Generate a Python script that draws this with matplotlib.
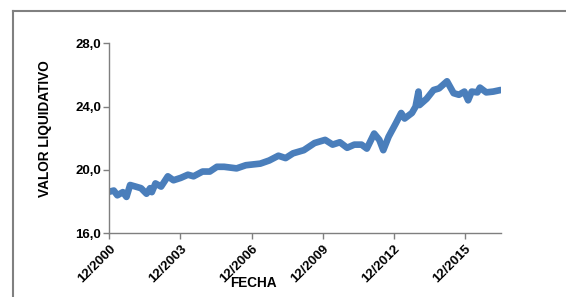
import pandas as pd
import matplotlib
matplotlib.use("Agg")
import matplotlib.pyplot as plt
import matplotlib.dates as mdates
from matplotlib.lines import Line2D

# valor liquidativo del fondo
fechas = [
    "2000-12-01", "2001-02-05", "2001-04-01", "2001-06-25", "2001-08-20",
    "2001-10-15", "2002-01-08", "2002-04-01", "2002-06-25", "2002-08-20",
    "2002-09-15", "2002-11-10", "2003-02-05", "2003-05-20", "2003-08-15",
    "2003-12-05", "2004-03-25", "2004-06-20", "2004-11-05", "2005-02-25",
    "2005-06-15", "2005-10-05", "2006-04-15", "2006-09-05", "2007-04-15",
    "2007-09-01", "2008-01-20", "2008-05-10", "2008-09-01", "2009-02-15",
    "2009-07-30", "2010-01-10", "2010-05-05", "2010-08-25", "2010-12-15",
    "2011-04-05", "2011-07-25", "2011-10-15", "2012-02-05", "2012-04-25",
    "2012-06-25", "2012-09-15", "2013-01-05", "2013-03-28", "2013-05-20",
    "2013-09-10", "2013-11-05", "2013-12-20", "2014-01-05", "2014-04-25",
    "2014-08-10", "2014-11-01", "2015-03-05", "2015-06-15", "2015-09-05",
    "2015-11-28", "2016-01-25", "2016-03-20", "2016-06-15", "2016-07-25",
    "2016-10-30", "2017-02-15", "2017-06-10",
]
valores = [
    18.63, 18.70, 18.40, 18.60, 18.30,
    19.05, 18.95, 18.85, 18.50, 18.85,
    18.60, 19.15, 18.95, 19.60, 19.35,
    19.50, 19.70, 19.60, 19.90, 19.90,
    20.20, 20.20, 20.10, 20.30, 20.40,
    20.60, 20.90, 20.75, 21.05, 21.25,
    21.70, 21.90, 21.60, 21.75, 21.40,
    21.60, 21.60, 21.35, 22.30, 21.90,
    21.25, 22.10, 22.95, 23.60, 23.25,
    23.60, 24.00, 24.95, 24.10, 24.50,
    25.05, 25.15, 25.60, 24.85, 24.75,
    24.95, 24.40, 24.95, 24.90, 25.20,
    24.90, 24.95, 25.05,
]
ticks_x = ["2000-12-01", "2003-12-01", "2006-12-01", "2009-12-01", "2012-12-01", "2015-12-01"]
ticks_y = [16.0, 20.0, 24.0, 28.0]

plt.rcParams["font.family"] = ["Liberation Sans", "DejaVu Sans"]

W, H = 566, 297
fig = plt.figure(figsize=(W / 100, H / 100), dpi=100)
ax = fig.add_axes([109.5 / W, 1 - 233.3 / H, (501 - 109.5) / W, (233.3 - 43.3) / H])

# marco exterior (solo se ven el lado izquierdo y el superior)
borde = dict(color="#808080", linewidth=1.5, transform=fig.transFigure)
fig.add_artist(Line2D([13 / W, 13 / W], [0, 1 - 11 / H], **borde))
fig.add_artist(Line2D([13 / W, 1], [1 - 11 / H, 1 - 11 / H], **borde))

ax.plot(pd.to_datetime(fechas), valores, color="#4a7ebb", linewidth=4.8,
        solid_joinstyle="round", solid_capstyle="round")

ax.set_ylim(16, 28)
ax.set_xlim(pd.Timestamp("2000-12-01"), pd.Timestamp("2017-06-15"))
ax.set_yticks(ticks_y)
ax.set_yticklabels([f"{v:.1f}".replace(".", ",") for v in ticks_y],
                   fontsize=9.5, fontweight="bold")
ax.set_xticks(pd.to_datetime(ticks_x))
ax.xaxis.set_major_formatter(mdates.DateFormatter("%m/%Y"))
for lbl in ax.get_xticklabels():
    lbl.set_rotation(45)
    lbl.set_ha("right")
    lbl.set_rotation_mode("anchor")
    lbl.set_fontsize(9.5)
    lbl.set_fontweight("bold")

for side in ["top", "right"]:
    ax.spines[side].set_visible(False)
for side in ["left", "bottom"]:
    ax.spines[side].set_color("#7f7f7f")
    ax.spines[side].set_linewidth(1.0)
ax.tick_params(axis="y", length=4, width=1, color="#7f7f7f", pad=2)
ax.tick_params(axis="x", length=4, width=1, color="#7f7f7f", pad=3)

fig.text(45 / W, 1 - 129 / H, "VALOR LIQUIDATIVO", fontsize=9.8, fontweight="bold",
         rotation=90, ha="center", va="center")
fig.text(253 / W, 1 - 283 / H, "FECHA", fontsize=9.8, fontweight="bold",
         ha="center", va="center")

fig.savefig("out.png", dpi=100)
